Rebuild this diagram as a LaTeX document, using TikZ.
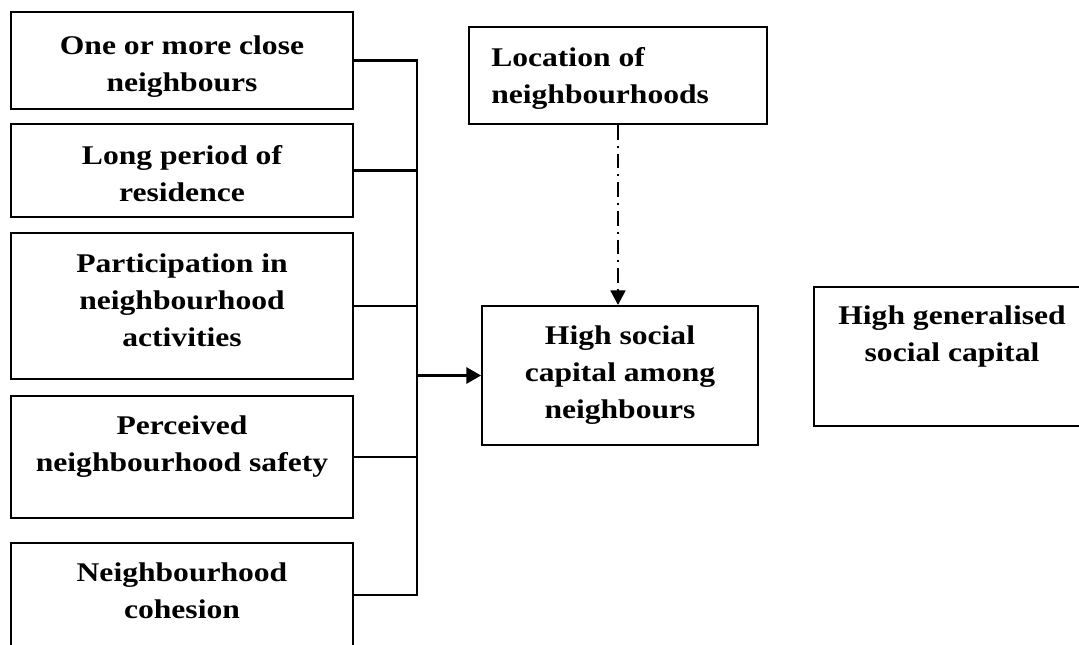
\documentclass[tikz,border=0pt]{standalone}
\usepackage{fontspec}
\setmainfont{Liberation Serif}[FakeStretch=1.17]
\usetikzlibrary{arrows.meta}
\begin{document}
\begin{tikzpicture}[x=0.75pt,y=-0.75pt,
  box/.style={draw=black,line width=1.4pt,rectangle,inner sep=0pt,fill=white},
  txt/.style={inner sep=0pt,anchor=north,align=center,font=\fontsize{20.25}{27.75}\selectfont\bfseries},
  conn/.style={draw=black,line width=2.1pt,line join=miter},
  arr/.style={conn,-{Triangle[length=11pt,width=12pt]}},
  dasharr/.style={draw=black,line width=2.1pt,dash pattern=on 11pt off 4.5pt on 1.5pt off 4.5pt,-{Triangle[length=11pt,width=11pt]}}]
\useasboundingbox (0,0) rectangle (1079,644);
\clip (0,0) rectangle (1079,644);
% left boxes
\node[box,minimum width=342*0.75pt,minimum height=97*0.75pt] (b1) at (182,60.5) {};
\node[box,minimum width=342*0.75pt,minimum height=93*0.75pt] (b2) at (182,170.5) {};
\node[box,minimum width=342*0.75pt,minimum height=146*0.75pt] (b3) at (182,306) {};
\node[box,minimum width=342*0.75pt,minimum height=122*0.75pt] (b4) at (182,457) {};
\node[box,minimum width=342*0.75pt,minimum height=104*0.75pt] (b5) at (182,595) {};
\node[txt] (t1) at (182,35) {One or more close\\neighbours};
\node[txt] (t2) at (182,145) {Long period of\\residence};
\node[txt] (t3) at (182,253) {Participation in\\neighbourhood\\activities};
\node[txt] (t4) at (182,415) {Perceived\\neighbourhood safety};
\node[txt] (t5) at (182,562) {Neighbourhood\\cohesion};
% right boxes
\node[box,minimum width=298*0.75pt,minimum height=97*0.75pt] (loc) at (618,75.5) {};
\node[txt,anchor=north west,align=left] (tloc) at (491,47) {Location of\\neighbourhoods};
\node[box,minimum width=276*0.75pt,minimum height=139*0.75pt] (hs) at (620,375.5) {};
\node[txt] (ths) at (620,325) {High social\\capital among\\neighbours};
\node[box,minimum width=276*0.75pt,minimum height=139*0.75pt] (hg) at (952,356.5) {};
\node[txt] (thg) at (952,305) {High generalised\\social capital};
% connectors
\coordinate (tt) at (417,62);
\draw[conn] (b1.east) -- (b1.east -| tt) -- (b5.east -| tt) -- (b5.east);
\draw[conn] (b2.east) -- (b2.east -| tt);
\draw[conn] (b3.east) -- (b3.east -| tt);
\draw[conn] (b4.east) -- (b4.east -| tt);
\draw[arr] (hs.west -| tt) -- (hs.west);
\draw[dasharr] (loc.south) -- (loc.south |- hs.north);
\end{tikzpicture}
\end{document}
